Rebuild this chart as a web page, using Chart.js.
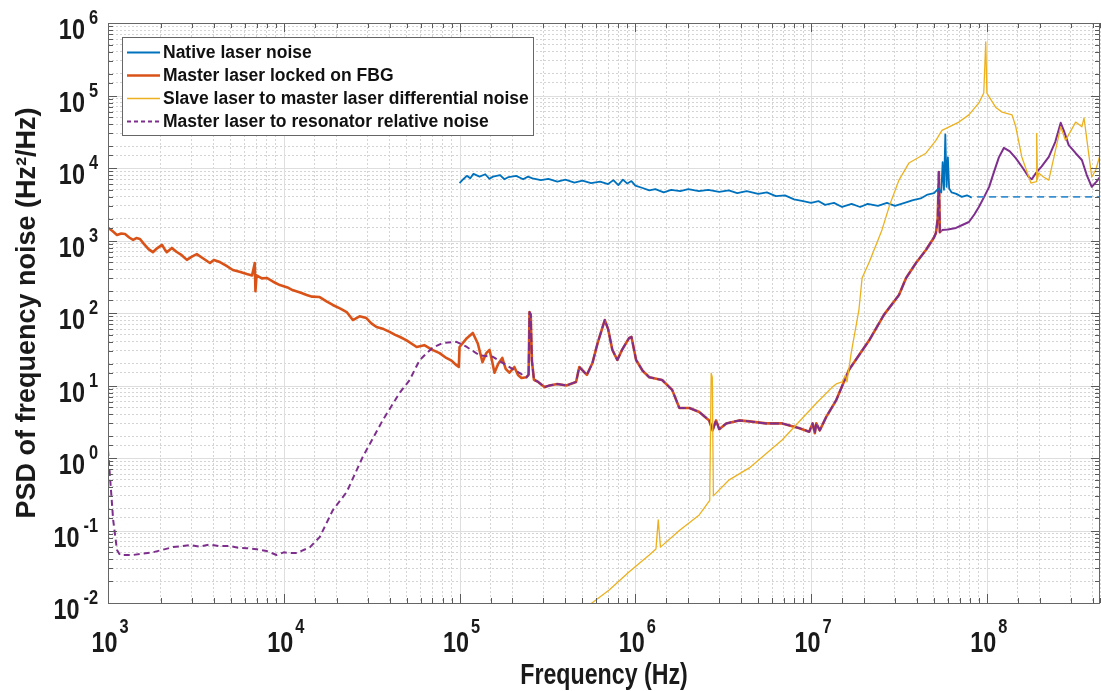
<!DOCTYPE html>
<html>
<head>
<meta charset="utf-8">
<script src="https://cdn.jsdelivr.net/npm/chart.js@4.4.0/dist/chart.umd.min.js"></script>
<style>
  html, body { margin: 0; padding: 0; background: #fff; }
</style>
</head>
<body>
<canvas id="chart" width="1101" height="691"></canvas>
<script>
// Native laser noise (blue), 100 kHz .. 82 MHz
const nativeFreq = [1.0e5, 1.05e5, 1.1e5, 1.15e5, 1.2e5, 1.3e5, 1.4e5, 1.48e5, 1.55e5, 1.7e5, 1.8e5, 1.9e5, 2.1e5, 2.3e5, 2.45e5, 2.6e5, 2.9e5, 3.2e5, 3.6e5, 4.0e5, 4.5e5, 5.0e5, 5.6e5, 6.3e5, 7.0e5, 7.5e5, 8.0e5, 8.5e5, 9.0e5, 9.5e5, 1.0e6, 1.1e6, 1.2e6, 1.3e6, 1.45e6, 1.6e6, 1.8e6, 2.0e6, 2.3e6, 2.6e6, 3.0e6, 3.4e6, 3.8e6, 4.3e6, 5.0e6, 5.6e6, 6.3e6, 7.1e6, 8.0e6, 9.0e6, 1.0e7, 1.1e7, 1.2e7, 1.35e7, 1.5e7, 1.7e7, 1.9e7, 2.1e7, 2.4e7, 2.7e7, 3.0e7, 3.4e7, 3.8e7, 4.2e7, 4.6e7, 5.0e7, 5.3e7, 5.5e7, 5.6e7, 5.7e7, 5.8e7, 5.9e7, 6.0e7, 6.1e7, 6.3e7, 6.7e7, 7.2e7, 7.7e7, 8.2e7];
const nativePsd = [6.2e3, 7.0e3, 7.8e3, 7.2e3, 8.3e3, 7.6e3, 8.2e3, 7.1e3, 7.6e3, 8.0e3, 7.0e3, 7.5e3, 7.8e3, 7.0e3, 7.6e3, 7.2e3, 6.8e3, 7.1e3, 6.5e3, 6.9e3, 6.3e3, 6.7e3, 6.2e3, 6.5e3, 6.0e3, 6.8e3, 5.8e3, 6.9e3, 6.1e3, 6.6e3, 5.7e3, 5.3e3, 4.9e3, 5.1e3, 4.6e3, 5.0e3, 4.8e3, 5.1e3, 4.8e3, 5.0e3, 4.7e3, 4.9e3, 4.5e3, 4.8e3, 4.4e3, 4.6e3, 4.1e3, 4.2e3, 3.7e3, 3.5e3, 3.3e3, 3.5e3, 3.1e3, 3.3e3, 2.9e3, 3.2e3, 2.9e3, 3.2e3, 3.0e3, 3.3e3, 3.0e3, 3.3e3, 3.6e3, 3.8e3, 4.3e3, 4.5e3, 5.2e3, 4.6e3, 1.2e4, 5.0e3, 2.9e4, 5.5e3, 1.4e4, 5.2e3, 4.6e3, 4.4e3, 4.0e3, 4.2e3, 3.9e3];
// dashed extension of the native noise floor
const floorFreq = [8.8e7, 4.4e8];
const floorPsd = [4.0e3, 4.0e3];

// Master laser locked on FBG, part seen alone (1 kHz .. 240 kHz)
const lockedFreq = [1.0e3, 1.06e3, 1.125e3, 1.19e3, 1.25e3, 1.32e3, 1.39e3, 1.45e3, 1.52e3, 1.6e3, 1.7e3, 1.8e3, 1.9e3, 2.03e3, 2.1e3, 2.16e3, 2.31e3, 2.45e3, 2.6e3, 2.81e3, 3.0e3, 3.2e3, 3.5e3, 3.8e3, 4.0e3, 4.33e3, 4.7e3, 5.13e3, 5.6e3, 6.16e3, 6.6e3, 6.84e3, 6.9e3, 7.0e3, 7.5e3, 8.0e3, 8.7e3, 9.5e3, 1.05e4, 1.12e4, 1.25e4, 1.35e4, 1.45e4, 1.6e4, 1.75e4, 1.9e4, 2.1e4, 2.28e4, 2.47e4, 2.7e4, 2.95e4, 3.15e4, 3.37e4, 3.7e4, 4.0e4, 4.3e4, 4.56e4, 5.0e4, 5.7e4, 6.3e4, 7.0e4, 7.7e4, 8.4e4, 9.0e4, 9.6e4, 9.9e4, 1.0e5, 1.1e5, 1.19e5, 1.27e5, 1.35e5, 1.42e5, 1.48e5, 1.53e5, 1.58e5, 1.66e5, 1.75e5, 1.83e5, 1.92e5, 2.05e5, 2.15e5, 2.25e5, 2.4e5];
const lockedPsd = [1500, 1350, 1190, 1250, 1230, 1100, 1020, 1080, 1050, 900, 760, 690, 780, 870, 760, 690, 790, 700, 640, 540, 600, 650, 560, 490, 540, 505, 450, 392, 370, 345, 330, 490, 200, 330, 300, 304, 270, 243, 225, 207, 190, 177, 168, 166, 145, 129, 115, 103, 80, 90, 85, 72, 64, 60, 55, 50, 47, 42, 34, 36, 31, 28, 24, 22, 19, 18, 34, 45, 53, 38, 21, 28, 31, 22, 15, 20, 24, 17, 15, 18, 14, 12.7, 13];

// part where the FBG lock and the resonator noise overlap (247 kHz .. 55 MHz)
const sharedFreq = [2.47e5, 2.5e5, 2.54e5, 2.58e5, 2.65e5, 2.8e5, 3.04e5, 3.25e5, 3.6e5, 4.05e5, 4.6e5, 4.8e5, 5.3e5, 5.7e5, 6.1e5, 6.7e5, 7.0e5, 7.4e5, 7.9e5, 8.4e5, 9.2e5, 9.5e5, 1.01e6, 1.1e6, 1.2e6, 1.42e6, 1.62e6, 1.78e6, 2.03e6, 2.31e6, 2.63e6, 2.75e6, 2.88e6, 3.0e6, 3.29e6, 3.9e6, 4.45e6, 5.55e6, 6.84e6, 8.5e6, 9.75e6, 1.02e7, 1.05e7, 1.07e7, 1.12e7, 1.22e7, 1.39e7, 1.64e7, 2.14e7, 2.6e7, 3.16e7, 3.47e7, 3.95e7, 4.5e7, 5.0e7, 5.13e7, 5.25e7, 5.33e7, 5.4e7, 5.55e7];
const sharedPsd = [14, 103, 95, 22, 12, 11.2, 9.5, 10, 10.5, 10, 11.2, 18, 14, 20.4, 38.5, 80, 60, 31, 22.5, 31, 45, 47, 22.5, 16, 13, 11.9, 8.7, 4.9, 4.9, 4.3, 3.3, 2.4, 3.3, 2.5, 3.0, 3.3, 3.2, 3.0, 3.0, 2.6, 2.3, 3.0, 2.2, 3.0, 2.4, 3.7, 6.3, 16.4, 42, 95, 177, 304, 490, 740, 1100, 1270, 2000, 8800, 1300, 1400];

// Master laser to resonator relative noise, part seen alone (1 kHz .. 240 kHz)
const relFreq = [1.0e3, 1.04e3, 1.07e3, 1.125e3, 1.17e3, 1.22e3, 1.39e3, 1.8e3, 2.34e3, 2.92e3, 3.3e3, 3.8e3, 4.3e3, 4.93e3, 5.5e3, 6.16e3, 7.0e3, 8.0e3, 9.1e3, 1.0e4, 1.08e4, 1.19e4, 1.41e4, 1.6e4, 1.9e4, 2.28e4, 2.81e4, 3.65e4, 4.56e4, 5.2e4, 5.93e4, 7.0e4, 8.0e4, 9.6e4, 1.1e5, 1.3e5, 1.54e5, 1.85e5, 2.19e5, 2.4e5];
const relPsd = [1.29, 0.36, 0.14, 0.054, 0.046, 0.046, 0.046, 0.050, 0.059, 0.063, 0.060, 0.064, 0.061, 0.061, 0.058, 0.057, 0.055, 0.052, 0.046, 0.050, 0.049, 0.049, 0.059, 0.081, 0.19, 0.34, 1.03, 3.3, 7.9, 11.9, 22.5, 33, 38.5, 40, 34, 26, 25, 19, 14.9, 13];
// resonator relative noise above 55 MHz
const tailFreq = [6.0e7, 6.67e7, 7.3e7, 7.9e7, 8.5e7, 9.0e7, 9.6e7, 1.03e8, 1.1e8, 1.17e8, 1.25e8, 1.35e8, 1.46e8, 1.6e8, 1.73e8, 1.8e8, 1.9e8, 2.05e8, 2.25e8, 2.45e8, 2.63e8, 2.75e8, 2.92e8, 3.2e8, 3.47e8, 3.7e8, 3.95e8, 4.2e8, 4.4e8];
const tailPsd = [1420, 1490, 1650, 1800, 2300, 2900, 3900, 5500, 9000, 1.4e4, 1.9e4, 1.7e4, 1.37e4, 1.0e4, 7.5e3, 7.0e3, 8.5e3, 1.05e4, 1.42e4, 2.3e4, 4.2e4, 3.2e4, 2.07e4, 1.6e4, 1.29e4, 8.0e3, 5.5e3, 6.5e3, 7.5e3];

// Slave laser to master laser differential noise (yellow)
const slaveFreq = [5.6e5, 7.1e5, 9.2e5, 1.2e6, 1.31e6, 1.35e6, 1.39e6, 1.78e6, 2.31e6, 2.65e6, 2.7e6, 2.74e6, 2.78e6, 3.42e6, 4.45e6, 6.84e6, 1.07e7, 1.32e7, 1.39e7, 1.5e7, 1.57e7, 1.6e7, 1.69e7, 1.87e7, 1.95e7, 2.14e7, 2.53e7, 2.8e7, 3.16e7, 3.6e7, 4.5e7, 5.13e7, 5.55e7, 6.93e7, 7.9e7, 9.0e7, 9.6e7, 9.85e7, 1.0e8, 1.12e8, 1.22e8, 1.39e8, 1.46e8, 1.58e8, 1.78e8, 1.91e8, 1.92e8, 1.94e8, 1.97e8, 2.1e8, 2.25e8, 2.63e8, 2.8e8, 3.2e8, 3.47e8, 3.57e8, 3.95e8, 4.16e8, 4.4e8];
const slavePsd = [0.0098, 0.0151, 0.0268, 0.046, 0.0556, 0.14, 0.059, 0.10, 0.164, 0.26, 14.8, 13, 0.3, 0.5, 0.73, 1.77, 5.7, 9.5, 10.5, 11.2, 14, 11.2, 28, 110, 304, 500, 1400, 3100, 6800, 1.17e4, 1.6e4, 2.4e4, 3.3e4, 4.3e4, 5.4e4, 7.9e4, 1.08e5, 5.5e5, 1.08e5, 6.9e4, 5.9e4, 5.4e4, 3.7e4, 1.42e4, 6.2e3, 6.5e3, 3.0e4, 7.0e3, 8.5e3, 7.5e3, 6.8e3, 3.7e4, 2.4e4, 4.3e4, 3.7e4, 4.9e4, 7.5e3, 9.4e3, 1.5e4];

const seriesLabels = [
    "Native laser noise",
    "Master laser locked on FBG",
    "Slave laser to master laser differential noise",
    "Master laser to resonator relative noise"
];
const seriesColors = ["#0072BD", "#D95319", "#EDB120", "#7E2F8E"];

const xMin = 1e3, xMax = 4.4e8;
const yMin = 1e-2, yMax = 1e6;

const toPoints = (fs, vs) => fs.map((f, i) => ({x: f, y: vs[i]}));
const isPow10 = v => Math.abs(Math.log10(v) - Math.round(Math.log10(v))) < 1e-6;

const sans = "'Liberation Sans', Arial, sans-serif";
const squeeze = 0.78; // tick labels and x title are drawn narrow, like the reference

// draw text squeezed horizontally, returns its drawn width
function narrowText(ctx, str, x, y, font, align, sx) {
    ctx.save();
    ctx.font = font;
    const w = ctx.measureText(str).width * sx;
    ctx.translate(x, y);
    ctx.scale(sx, 1);
    ctx.textAlign = align;
    ctx.fillText(str, 0, 0);
    ctx.restore();
    return w;
}
function textWidth(ctx, str, font, sx) {
    ctx.save();
    ctx.font = font;
    const w = ctx.measureText(str).width * sx;
    ctx.restore();
    return w;
}

// MATLAB-like box: major grid, inward ticks, 10^n labels, legend inside the axes
const matlabAxes = {
    id: "matlabAxes",
    beforeDatasetsDraw(chart) {
        const {ctx, chartArea: a, scales: {x, y}} = chart;
        ctx.save();
        ctx.strokeStyle = "#dedede";
        ctx.lineWidth = 1;
        x.ticks.forEach(t => {
            if (!isPow10(t.value)) return;
            const px = Math.round(x.getPixelForValue(t.value)) + 0.5;
            ctx.beginPath(); ctx.moveTo(px, a.top); ctx.lineTo(px, a.bottom); ctx.stroke();
        });
        y.ticks.forEach(t => {
            if (!isPow10(t.value)) return;
            const py = Math.round(y.getPixelForValue(t.value)) + 0.5;
            ctx.beginPath(); ctx.moveTo(a.left, py); ctx.lineTo(a.right, py); ctx.stroke();
        });
        ctx.restore();
    },
    afterDatasetsDraw(chart) {
        const {ctx, chartArea: a, scales: {x, y}} = chart;
        ctx.save();
        ctx.strokeStyle = "#5a5a5a";
        ctx.lineWidth = 1;
        x.ticks.forEach(t => {
            const px = Math.round(x.getPixelForValue(t.value)) + 0.5;
            const len = isPow10(t.value) ? 9 : 5;
            ctx.beginPath();
            ctx.moveTo(px, a.bottom); ctx.lineTo(px, a.bottom - len);
            ctx.moveTo(px, a.top); ctx.lineTo(px, a.top + len);
            ctx.stroke();
        });
        y.ticks.forEach(t => {
            const py = Math.round(y.getPixelForValue(t.value)) + 0.5;
            const len = isPow10(t.value) ? 9 : 5;
            ctx.beginPath();
            ctx.moveTo(a.left, py); ctx.lineTo(a.left + len, py);
            ctx.moveTo(a.right, py); ctx.lineTo(a.right - len, py);
            ctx.stroke();
        });
        ctx.strokeStyle = "#666";
        ctx.strokeRect(Math.round(a.left) + 0.5, Math.round(a.top) + 0.5,
            Math.round(a.right - a.left) - 1, Math.round(a.bottom - a.top));

        // legend
        const lx = 122, ly = 37, lw = 411, lh = 98;
        ctx.fillStyle = "#fff";
        ctx.fillRect(lx, ly, lw, lh);
        ctx.strokeStyle = "#666";
        ctx.strokeRect(lx + 0.5, ly + 0.5, lw, lh);
        ctx.font = "bold 17.5px " + sans;
        ctx.textBaseline = "middle";
        chart.data.datasets.slice(0, 4).forEach((ds, i) => {
            const ry = 52.5 + i * 23;
            ctx.strokeStyle = ds.borderColor;
            ctx.lineWidth = ds.borderWidth;
            ctx.setLineDash(ds.legendDash || []);
            ctx.beginPath(); ctx.moveTo(127, ry); ctx.lineTo(160, ry); ctx.stroke();
            ctx.setLineDash([]);
            ctx.fillStyle = "#111";
            ctx.fillText(ds.label, 163, ry + 1);
        });
        ctx.restore();
    },
    afterDraw(chart) {
        const {ctx, chartArea: a, scales: {x, y}} = chart;
        ctx.save();
        ctx.fillStyle = "#1a1a1a";
        ctx.textBaseline = "alphabetic";
        const base = "bold 30px " + sans;
        const sup = "bold 21px " + sans;
        y.ticks.forEach(t => {
            if (!isPow10(t.value)) return;
            const py = y.getPixelForValue(t.value);
            const e = String(Math.round(Math.log10(t.value)));
            const ew = narrowText(ctx, e, 98, py + 1, sup, "right", squeeze);
            narrowText(ctx, "10", 98 - ew - 4, py + 16, base, "right", squeeze);
        });
        x.ticks.forEach(t => {
            if (!isPow10(t.value)) return;
            const px = x.getPixelForValue(t.value);
            const e = String(Math.round(Math.log10(t.value)));
            const bw = textWidth(ctx, "10", base, squeeze);
            const ew = textWidth(ctx, e, sup, squeeze);
            const left = px - (bw + 2 + ew) / 2 + 2;
            narrowText(ctx, "10", left, 652, base, "left", squeeze);
            narrowText(ctx, e, left + bw + 2, 633, sup, "left", squeeze);
        });
        // x axis title
        narrowText(ctx, "Frequency (Hz)", (a.left + a.right) / 2, 684, "bold 29px " + sans, "center", 0.8);
        ctx.restore();
    }
};

const gridOpts = {
    color: ctx => (ctx.tick && isPow10(ctx.tick.value)) ? "rgba(0,0,0,0)" : "#d4d4d4",
    lineWidth: 1,
    drawTicks: false
};

new Chart(document.getElementById("chart"), {
    type: "line",
    data: {
        datasets: [
            {
                label: seriesLabels[0],
                data: toPoints(nativeFreq, nativePsd),
                borderColor: seriesColors[0],
                borderWidth: 1.8,
                order: 1
            },
            {
                label: seriesLabels[1],
                data: toPoints(lockedFreq.concat(sharedFreq), lockedPsd.concat(sharedPsd)),
                borderColor: seriesColors[1],
                borderWidth: 2.6,
                order: 3
            },
            {
                label: seriesLabels[2],
                data: toPoints(slaveFreq, slavePsd),
                borderColor: seriesColors[2],
                borderWidth: 1.3,
                order: 0
            },
            {
                label: seriesLabels[3],
                data: toPoints(relFreq.concat(sharedFreq, tailFreq), relPsd.concat(sharedPsd, tailPsd)),
                borderColor: seriesColors[3],
                borderWidth: 2,
                legendDash: [4, 3],
                segment: {
                    borderDash: ctx => {
                        const f = ctx.p0.parsed.x;
                        if (f < 2.45e5) return [6, 4];
                        if (f < 5.5e7) return [9, 3];
                        return [];
                    }
                },
                order: 2
            },
            {
                label: "floor",
                data: toPoints(floorFreq, floorPsd),
                borderColor: "#3a8fd0",
                borderWidth: 1.6,
                borderDash: [7, 5],
                order: 1
            }
        ]
    },
    options: {
        responsive: false,
        devicePixelRatio: 1,
        animation: false,
        events: [],
        layout: {padding: {top: 23, right: 1, left: 0, bottom: 0}},
        elements: {
            point: {radius: 0},
            line: {tension: 0, borderCapStyle: "butt", borderJoinStyle: "round"}
        },
        plugins: {
            legend: {display: false},
            tooltip: {enabled: false}
        },
        scales: {
            x: {
                type: "logarithmic",
                min: xMin,
                max: xMax,
                ticks: {display: false, autoSkip: false},
                grid: gridOpts,
                border: {display: false, dash: [2, 2]},
                afterFit: s => { s.height = 88; }
            },
            y: {
                type: "logarithmic",
                min: yMin,
                max: yMax,
                ticks: {display: false, autoSkip: false},
                grid: gridOpts,
                border: {display: false, dash: [2, 2]},
                title: {
                    display: true,
                    text: "PSD of frequency noise (Hz²/Hz)",
                    color: "#1a1a1a",
                    font: {family: sans, size: 27, weight: "bold"},
                    padding: {top: 11, bottom: 0}
                },
                afterFit: s => { s.width = 108; }
            }
        }
    },
    plugins: [matlabAxes]
});
</script>
</body>
</html>
